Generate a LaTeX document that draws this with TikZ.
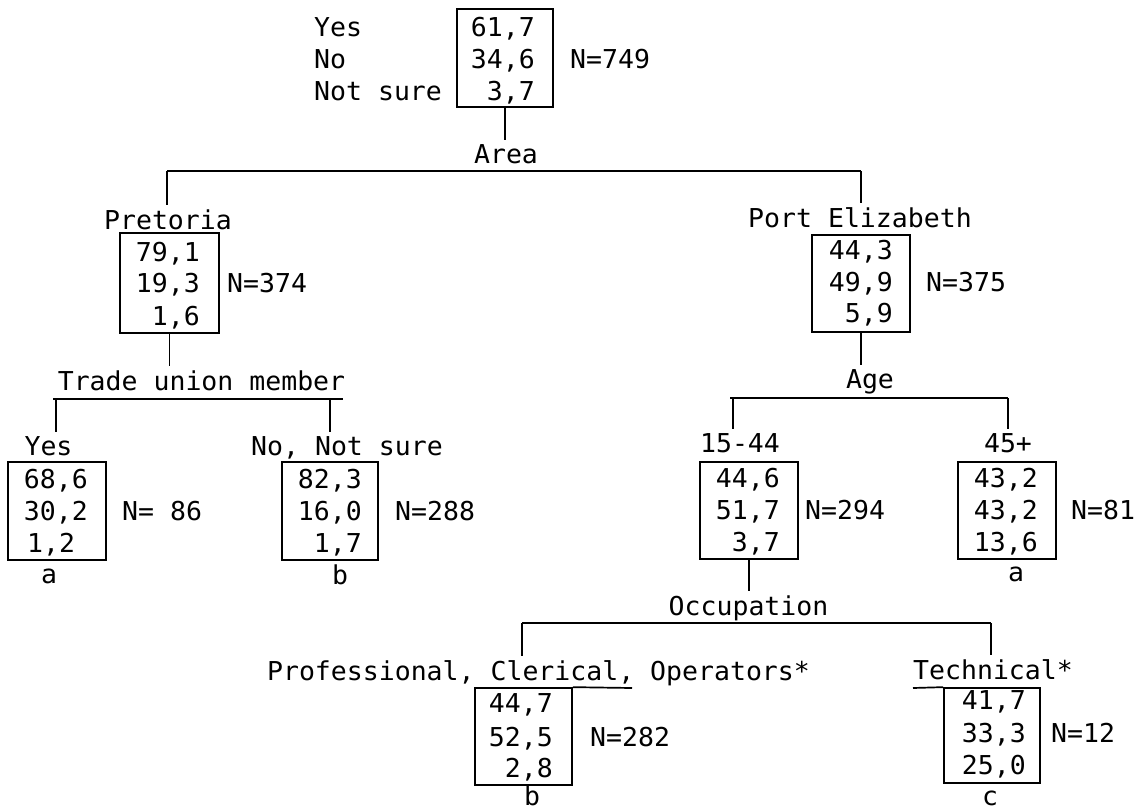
\documentclass[tikz,border=0pt]{standalone}
\usepackage{fontspec}
\newfontfamily\tw[FakeStretch=1.02]{DejaVu Sans Mono}
\begin{document}
\begin{tikzpicture}[x=1pt,y=-1pt,
  every node/.style={font=\tw\fontsize{26}{30}\selectfont, inner sep=0pt},
  lab/.style={anchor=base, inner ysep=4pt},
  num/.style={anchor=base east},
  nl/.style={anchor=base west},
  box/.style={draw, line width=1.7pt},
  link/.style={line width=1.7pt}]
\fill[white] (0,0) rectangle (1143,811);
\useasboundingbox (0,0) rectangle (1143,811);

% root
\node[nl] (ryes) at (314,36) {Yes};
\node[nl] (rno) at (314,68) {No};
\node[nl] (rns) at (314,100) {Not sure};
\node[box, minimum width=96pt, minimum height=98pt] (rbox) at (505,58) {};
\node[num] (r1) at (535,36) {61,7};
\node[num] (r2) at (535,68) {34,6};
\node[num] (r3) at (535,100) {3,7};
\node[nl] (rn) at (570,68) {N=749};
\node[lab] (area) at (506,163) {Area};
\draw[link] (rbox.south) -- (rbox.south |- area.north);
\coordinate (aL) at (167,171);
\coordinate (aR) at (861,171);
\draw[link] (aL) -- (aR);

% Pretoria
\node[lab] (pre) at (168,229) {Pretoria};
\draw[link] (aL) -- (aL |- pre.north);
\node[box, minimum width=99pt, minimum height=100pt] (pbox) at (169.5,283) {};
\node[num] (p1) at (200,261) {79,1};
\node[num] (p2) at (200,292) {19,3};
\node[num] (p3) at (200,325) {1,6};
\node[nl] (pn) at (227,292) {N=374};
\node[lab] (tu) at (201.5,390) {Trade union member};
\draw[link] (pbox.south) -- (pbox.south |- tu.north);
\coordinate (tuA) at (53,399);
\coordinate (tuB) at (343,399);
\coordinate (tuL) at (56,399);
\coordinate (tuR) at (330,399);
\draw[link] (tuA) -- (tuB);

% TU Yes
\node[lab] (tyes) at (48.5,455) {Yes};
\draw[link] (tuL) -- (tuL |- tyes.north);
\node[box, minimum width=98pt, minimum height=98pt] (ybox) at (57,511) {};
\node[num] (y1) at (88,488) {68,6};
\node[num] (y2) at (88,520) {30,2};
\node[nl] (y3) at (27,552) {1,2};
\node[nl] (yn) at (122,520) {N= 86};
\node[anchor=base] (ya) at (49,583) {a};

% TU No
\node[lab] (tno) at (347,455) {No, Not sure};
\draw[link] (tuR) -- (tuR |- tno.north);
\node[box, minimum width=96pt, minimum height=98pt] (nbox) at (330,511) {};
\node[num] (n1) at (362,488) {82,3};
\node[num] (n2) at (362,520) {16,0};
\node[num] (n3) at (362,552) {1,7};
\node[nl] (nn) at (395,520) {N=288};
\node[anchor=base] (nb) at (340,584) {b};

% Port Elizabeth
\node[lab] (pe) at (860,227) {Port Elizabeth};
\draw[link] (aR) -- (aR |- pe.north);
\node[box, minimum width=98pt, minimum height=97pt] (ebox) at (861,283.5) {};
\node[num] (e1) at (893,259) {44,3};
\node[num] (e2) at (893,291) {49,9};
\node[num] (e3) at (893,322) {5,9};
\node[nl] (en) at (926,291) {N=375};
\node[lab] (age) at (870,388) {Age};
\draw[link] (ebox.south) -- (ebox.south |- age.north);
\coordinate (gA) at (730,398);
\coordinate (gB) at (1008,398);
\coordinate (gL) at (733,398);
\draw[link] (gA) -- (gB);

% 15-44
\node[lab] (y15) at (740,452) {15-44};
\draw[link] (gL) -- (gL |- y15.north);
\node[box, minimum width=98pt, minimum height=97pt] (abox) at (749,510.5) {};
\node[num] (a1) at (780,487) {44,6};
\node[num] (a2) at (780,519) {51,7};
\node[num] (a3) at (780,551) {3,7};
\node[nl] (an) at (805,519) {N=294};

% 45+
\node[lab] (y45) at (1008,452) {45+};
\draw[link] (gB) -- (gB |- y45.north);
\node[box, minimum width=98pt, minimum height=97pt] (bbox) at (1007,510.5) {};
\node[num] (b1) at (1038,487) {43,2};
\node[num] (b2) at (1038,519) {43,2};
\node[num] (b3) at (1038,551) {13,6};
\node[nl] (bn) at (1071,519) {N=81};
\node[anchor=base] (ba) at (1016,581) {a};

% Occupation
\node[lab] (occ) at (748.5,615) {Occupation};
\draw[link] (abox.south) -- (abox.south |- occ.north);
\coordinate (oA) at (522,623);
\coordinate (oB) at (991,623);
\draw[link] (oA) -- (oB);

% Professional
\node[lab] (prof) at (538.5,680) {Professional, Clerical, Operators*};
\draw[link] (oA) -- (oA |- prof.north);
\node[box, minimum width=97pt, minimum height=97pt] (fbox) at (523.5,736.5) {};
\coordinate (fu) at (632,688);
\draw[link] (fbox.north east) -- (fu);
\node[num] (f1) at (553,712) {44,7};
\node[num] (f2) at (553,746) {52,5};
\node[num] (f3) at (553,777) {2,8};
\node[nl] (fn) at (590,746) {N=282};
\node[anchor=base] (fb) at (532,805) {b};

% Technical
\node[lab] (tech) at (993,679) {Technical*};
\draw[link] (oB) -- (oB |- tech.north);
\node[box, minimum width=96pt, minimum height=95pt] (tbox) at (992,735.5) {};
\coordinate (tcu) at (913,688);
\draw[link] (tcu) -- (tbox.north west);
\node[num] (t1) at (1026,709) {41,7};
\node[num] (t2) at (1026,742) {33,3};
\node[num] (t3) at (1026,774) {25,0};
\node[nl] (tn) at (1051,742) {N=12};
\node[anchor=base] (tc) at (990,805) {c};
\end{tikzpicture}
\end{document}
